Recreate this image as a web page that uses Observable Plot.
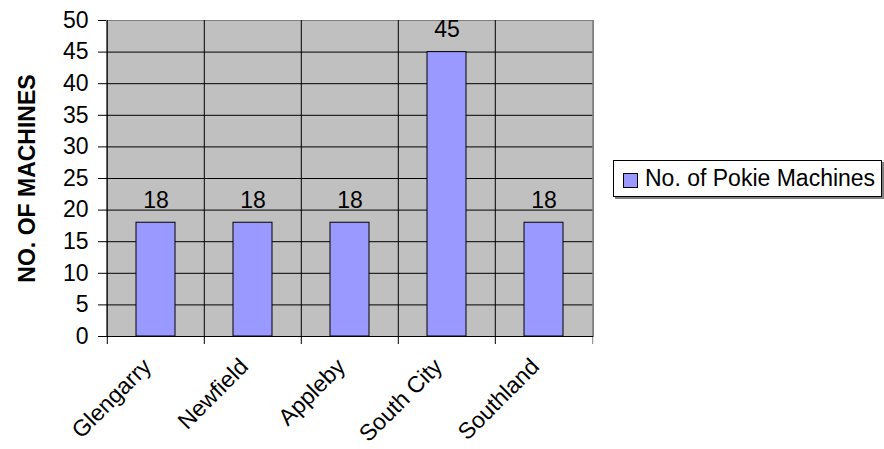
<!DOCTYPE html>
<html>
<head>
<meta charset="utf-8">
<script src="https://cdn.jsdelivr.net/npm/d3@7"></script>
<script src="https://cdn.jsdelivr.net/npm/@observablehq/plot@0.6"></script>
<style>
  html, body { margin: 0; padding: 0; background: #fff; }
  #wrap { position: relative; width: 884px; height: 449px; font-family: "Liberation Sans", Arial, sans-serif; }
  #legend { position: absolute; left: 613px; top: 160px; width: 269px; height: 37px; border: 1px solid #000; background: #fff; box-shadow: 2px 2px 0 #808080; box-sizing: border-box; }
  #legend .sw { position: absolute; left: 9px; top: 12px; width: 15px; height: 15px; background: #9999FF; border: 1px solid #000; box-sizing: border-box; }
  #legend .lbl { position: absolute; left: 31px; top: 3px; font-size: 23px; line-height: 29px; color: #000; white-space: nowrap; }
</style>
</head>
<body>
<div id="wrap"></div>
<script>
const categories = ["Glengarry", "Newfield", "Appleby", "South City", "Southland"];
const machines = [18, 18, 18, 45, 18];
const yTicks = [0, 5, 10, 15, 20, 25, 30, 35, 40, 45, 50];
const seriesName = "No. of Pokie Machines";
const yTitle = "NO. OF MACHINES";

const data = categories.map((c, i) => ({category: c, value: machines[i]}));

const W = 884, H = 449, mL = 106, mR = 291, mT = 20, mB = 113;
const step = (W - mL - mR) / categories.length;

const chart = Plot.plot({
  width: W, height: H,
  marginLeft: mL, marginRight: mR, marginTop: mT, marginBottom: mB,
  style: {fontFamily: "'Liberation Sans', Arial, sans-serif", fontSize: "23px", background: "#fff", color: "#000", overflow: "visible"},
  x: {domain: categories, padding: 0, axis: null},
  y: {domain: [0, 50], axis: null},
  marks: [
    Plot.frame({fill: "#C0C0C0", stroke: "#808080"}),
    Plot.ruleY(yTicks.filter(t => t > 0 && t < 50), {stroke: "#000"}),
    Plot.ruleX(categories, {x: d => d, dx: -step / 2, stroke: "#000", insetBottom: -8}),
    Plot.ruleX([categories[categories.length - 1]], {x: d => d, dx: step / 2, stroke: "#808080", insetBottom: -8}),
    Plot.barY(data, {x: "category", y: "value", fill: "#9999FF", stroke: "#000", insetLeft: 29, insetRight: 29}),
    Plot.ruleY([0], {stroke: "#000"}),
    Plot.axisY({ticks: yTicks, tickSize: 8, tickPadding: 10, label: null, fontSize: 23}),
    Plot.text(data, {x: "category", y: "value", text: d => String(d.value), dy: -15, lineAnchor: "bottom", fontSize: 23}),
    Plot.text(data, {x: "category", frameAnchor: "bottom", text: "category", rotate: -45, textAnchor: "end", lineAnchor: "top", dy: 20, dx: -15, fontSize: 23}),
    Plot.text([yTitle], {text: d => d, frameAnchor: "left", textAnchor: "middle", rotate: -90, dx: -79, fontWeight: "bold", fontSize: 23})
  ]
});

const wrap = document.getElementById("wrap");
wrap.appendChild(chart);
const legend = document.createElement("div");
legend.id = "legend";
legend.innerHTML = '<div class="sw"></div><div class="lbl"></div>';
legend.querySelector(".lbl").textContent = seriesName;
wrap.appendChild(legend);
</script>
</body>
</html>
